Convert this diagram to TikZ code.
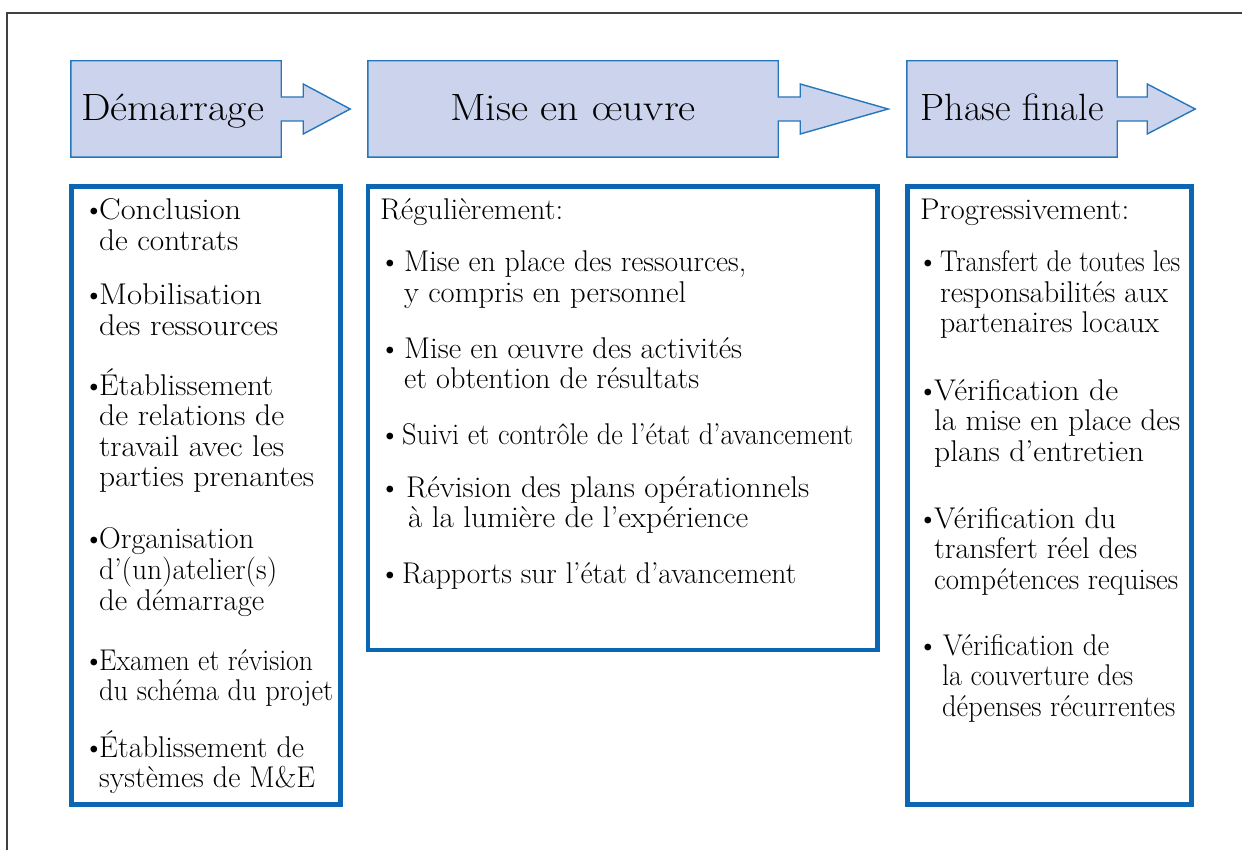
\documentclass[tikz,border=0pt]{standalone}
\usepackage{fontspec}
\usepackage{graphicx}
\usetikzlibrary{backgrounds,calc}
\definecolor{hdrfill}{HTML}{CBD4EC}
\definecolor{hdrline}{HTML}{2676BC}
\definecolor{boxline}{HTML}{0B67B3}
\definecolor{framegray}{HTML}{404040}
\newcommand\phasearrow[3]{%
  \draw[hdrshape] (#1.north west) -- (#1.north east) -- ($(#1.east)+(0,-12)$)
    -- ($(#1.east)+(#2,-12)$) -- ($(#1.east)+(#2,-25)$) -- ($(#1.east)+(#2+#3,0)$)
    -- ($(#1.east)+(#2,25)$) -- ($(#1.east)+(#2,12)$) -- ($(#1.east)+(0,12)$)
    -- (#1.south east) -- (#1.south west) -- cycle;}
\newsavebox\fitbox
\newcommand\fitw[2]{\sbox\fitbox{#2}\edef\fitwd{\the\wd\fitbox}%
  \pgfmathsetmacro\fitr{(#1+1)/\fitwd}\scalebox{\fitr}[1]{\usebox\fitbox}}
\newcommand\lines[1]{\begin{tabular}[t]{@{}l@{}}#1\end{tabular}}
\begin{document}
\begin{tikzpicture}[x=1pt,y=-1pt,
  hdr/.style={minimum height=96pt, inner sep=0pt, text height=24pt, text depth=0pt, font=\fontsize{38}{40}\selectfont},
  hdrshape/.style={fill=hdrfill, draw=hdrline, line width=1.4pt, line join=miter},
  panel/.style={draw=boxline, line width=4.6pt, inner sep=0pt},
  item/.style={anchor=base west, inner sep=0pt, font=\fontsize{30}{30.5}\selectfont},
  bul/.style={anchor=base west, inner sep=0pt, font=\fontsize{30}{30.5}\selectfont},
]
\useasboundingbox (0,0) rectangle (1242,850);
% frame
\coordinate (fr) at (1242,13);
\coordinate (fc) at (7,13);
\coordinate (fb) at (7,850);
\draw[framegray, line width=1.3pt] (fr) -- (fc) -- (fb);

% headers
\node[hdr, minimum width=210pt] (h1) at (176,109) {\fitw{182}{Démarrage}\hspace*{7pt}};
\node[hdr, minimum width=410pt] (h2) at (573,109) {\fitw{245}{Mise en œuvre}};
\node[hdr, minimum width=210pt] (h3) at (1012,109) {\fitw{182}{Phase finale}};
\begin{scope}[on background layer]
  \fill[white] (0,0) rectangle (1242,850);
  \phasearrow{h1}{22}{47}
  \phasearrow{h2}{22}{88}
  \phasearrow{h3}{30}{48}
\end{scope}

% panels
\node[panel, minimum width=269pt, minimum height=618pt] (p1) at (206,495.5) {};
\node[panel, minimum width=509.5pt, minimum height=463.5pt] (p2) at (622.75,418.25) {};
\node[panel, minimum width=284pt, minimum height=618pt] (p3) at (1049.5,495.5) {};

% left column
\node[bul] (lb1) at (83,220) {\textbullet};
\node[item] (l1) at (99,220) {\lines{\fitw{141}{Conclusion}\\\fitw{138}{de contrats}}};
\node[bul] (lb2) at (83,305) {\textbullet};
\node[item] (l2) at (99,305) {\lines{\fitw{162}{Mobilisation}\\\fitw{178}{des ressources}}};
\node[bul] (lb3) at (83,395) {\textbullet};
\node[item] (l3) at (99,395) {\lines{\fitw{173}{Établissement}\\\fitw{184}{de relations de}\\\fitw{184}{travail avec les}\\\fitw{214}{parties prenantes}}};
\node[bul] (lb4) at (83,548) {\textbullet};
\node[item] (l4) at (99,548) {\lines{\fitw{154}{Organisation}\\\fitw{177}{d’(un)atelier(s)}\\\fitw{164}{de démarrage}}};
\node[bul] (lb5) at (83,670) {\textbullet};
\node[item] (l5) at (99,670) {\lines{\fitw{213}{Examen et révision}\\\fitw{233}{du schéma du projet}}};
\node[bul] (lb6) at (83,757) {\textbullet};
\node[item] (l6) at (99,757) {\lines{\fitw{204}{Établissement de}\\\fitw{215}{systèmes de M\&E}}};

% middle column
\node[item] (mh) at (380,220) {\fitw{182}{Régulièrement:}};
\node[bul] (mb1) at (379,272) {\textbullet};
\node[item] (m1) at (404,272) {\lines{\fitw{341}{Mise en place des ressources,}\\\fitw{281}{y compris en personnel}}};
\node[bul] (mb2) at (379,358) {\textbullet};
\node[item] (m2) at (404,358) {\lines{\fitw{337}{Mise en œuvre des activités}\\\fitw{294}{et obtention de résultats}}};
\node[bul] (mb3) at (379,444) {\textbullet};
\node[item] (m3) at (402,444) {\fitw{450}{Suivi et contrôle de l’état d’avancement}};
\node[bul] (mb4) at (379,497) {\textbullet};
\node[item] (m4) at (406,497) {\lines{\fitw{402}{Révision des plans opérationnels}\\\hspace*{2pt}\fitw{339}{à la lumière de l’expérience}}};
\node[bul] (mb5) at (379,583) {\textbullet};
\node[item] (m5) at (402,583) {\fitw{393}{Rapports sur l’état d’avancement}};

% right column
\node[item] (rh) at (920,220) {\fitw{208}{Progressivement:}};
\node[bul] (rb1) at (917,272) {\textbullet};
\node[item] (r1) at (940,272) {\lines{\fitw{239}{Transfert de toutes les}\\\fitw{227}{responsabilités aux}\\\fitw{218}{partenaires locaux}}};
\node[bul] (rb2) at (917,400) {\textbullet};
\node[item] (r2) at (934,400) {\lines{\fitw{183}{Vérification de}\\\fitw{245}{la mise en place des}\\\fitw{209}{plans d’entretien}}};
\node[bul] (rb3) at (917,528) {\textbullet};
\node[item] (r3) at (934,528) {\lines{\fitw{181}{Vérification du}\\\fitw{202}{transfert réel des}\\\fitw{243}{compétences requises}}};
\node[bul] (rb4) at (917,655) {\textbullet};
\node[item] (r4) at (942,655) {\lines{\hspace*{1pt}\fitw{165}{Vérification de}\\\fitw{190}{la couverture des}\\\fitw{232}{dépenses récurrentes}}};
\end{tikzpicture}
\end{document}
